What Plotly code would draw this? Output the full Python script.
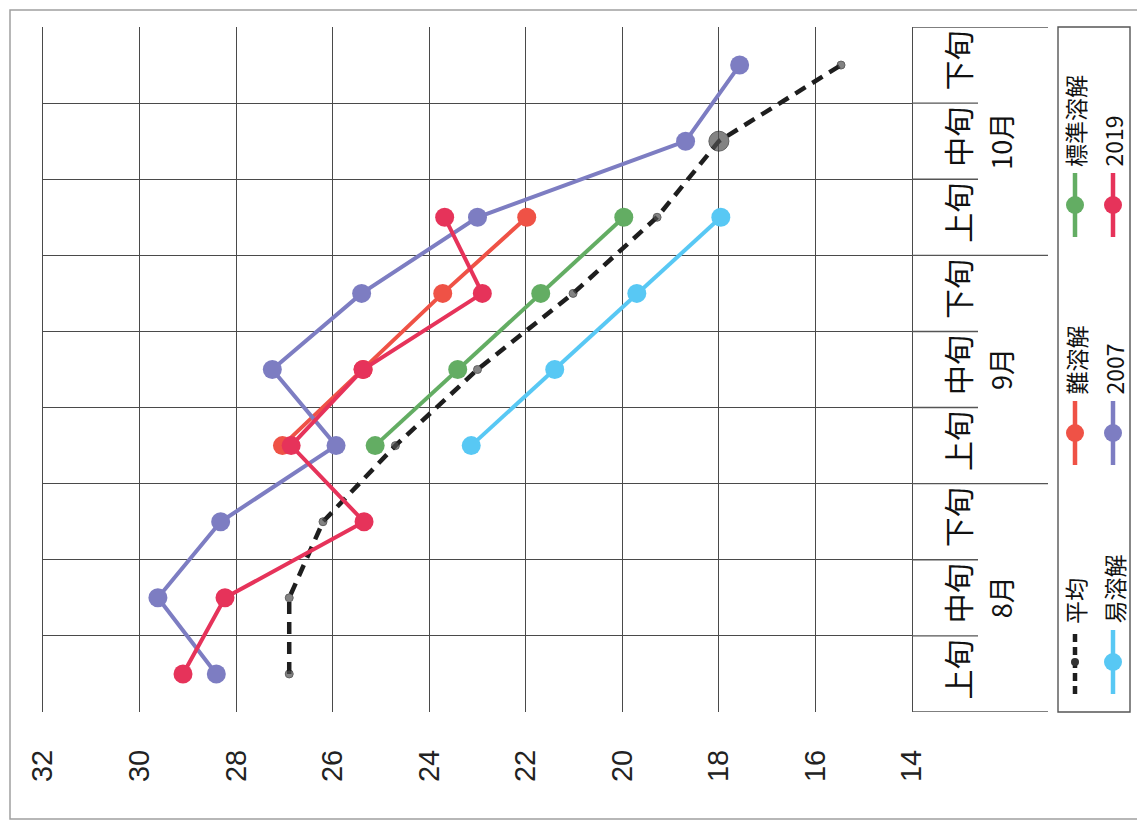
import plotly.graph_objects as go

# ---- data ----
positions = [0, 1, 2, 3, 4, 5, 6, 7, 8]
period_labels = ["上旬", "中旬", "下旬", "上旬", "中旬", "下旬", "上旬", "中旬", "下旬"]
months = ["8月", "9月", "10月"]
month_centers = [1, 4, 7]
values_ticks = [32, 30, 28, 26, 24, 22, 20, 18, 16, 14]

avg = [26.9, 26.9, 26.2, 24.7, 23.0, 21.02, 19.28, 18.0, 15.47]
easy = [None, None, None, 23.13, 21.40, 19.70, 17.96, None, None]
standard = [None, None, None, 25.12, 23.41, 21.69, 19.97, None, None]
hard = [None, None, None, 27.04, 25.37, 23.72, 21.98, None, None]
y2019 = [29.10, 28.23, 25.35, 26.86, 25.37, 22.90, 23.68, None, None]
y2007 = [28.41, 29.62, 28.32, 25.93, 27.25, 25.40, 23.00, 18.69, 17.57]

C_AVG = "#1e1e1e"
C_EASY = "#58c8f4"
C_STD = "#63ad63"
C_HARD = "#ef5246"
C_2019 = "#e6335a"
C_2007 = "#7d7dc2"

# page offset (browser body margin) and geometry in screenshot pixels
OFF = 8
W, H = 1145 - OFF, 824 - OFF
L, R, T, B = 43, 912, 27, 712  # plot area in screenshot pixels


def px(x):
    return (x - L) / (R - L)


def py(y):
    return (B - y) / (B - T)


fig = go.Figure()

fig.add_trace(go.Scatter(
    x=avg, y=positions, mode="lines+markers", name="平均",
    line=dict(color=C_AVG, width=4.5, dash="12px,8px"),
    marker=dict(size=[8, 8, 8, 8, 8, 8, 8, 20, 8], color="#505050", symbol="circle"),
))
for vals, col, name in [(easy, C_EASY, "易溶解"), (standard, C_STD, "標準溶解"),
                        (hard, C_HARD, "難溶解"), (y2007, C_2007, "2007"),
                        (y2019, C_2019, "2019")]:
    fig.add_trace(go.Scatter(
        x=vals, y=positions, mode="lines+markers", name=name,
        line=dict(color=col, width=4),
        marker=dict(size=19, color=col),
    ))

grid_c = "#4a4a4a"
boundaries = [p - 0.5 for p in positions] + [positions[-1] + 0.5]

fig.update_layout(
    width=W, height=H,
    margin=dict(l=L - OFF, r=(1145 - R), t=T - OFF, b=(824 - B)),
    paper_bgcolor="white", plot_bgcolor="white",
    showlegend=False,
    xaxis=dict(
        range=[32, 14], tickvals=values_ticks, ticktext=[str(v) for v in values_ticks],
        showgrid=True, gridcolor=grid_c, gridwidth=1.4, zeroline=False,
        tickangle=-90, ticks="", ticklabelstandoff=31,
        tickfont=dict(family="Liberation Sans", size=29, color="#222"),
        showline=False,
    ),
    yaxis=dict(
        range=[-0.5, 8.5], side="right", tickvals=positions, ticktext=period_labels,
        showgrid=False, zeroline=False, ticks="", tickangle=-90, ticklabelstandoff=21,
        tickfont=dict(family="Noto Sans CJK JP", size=30, color="#111"),
        showline=True, mirror=True, linecolor=grid_c, linewidth=1.4,
        minor=dict(tickvals=boundaries, showgrid=True, gridcolor=grid_c, gridwidth=1.4, ticks=""),
    ),
)

shapes = []
# dividers of category labels
for b in boundaries:
    long_line = b in (-0.5, 2.5, 5.5, 8.5)
    shapes.append(dict(type="line", xref="paper", yref="y",
                       x0=px(R), x1=px(1048 if long_line else 978), y0=b, y1=b,
                       line=dict(color="#555", width=1.4)))
# legend box
shapes.append(dict(type="rect", xref="paper", yref="paper",
                   x0=px(1058), x1=px(1130), y0=py(712), y1=py(27),
                   line=dict(color="#555", width=1.4)))
# outer border
shapes.append(dict(type="rect", xref="paper", yref="paper",
                   x0=px(10), x1=px(1141), y0=py(819), y1=py(10),
                   line=dict(color="#a0a0a0", width=1.5)))

annotations = []
for m, c in zip(months, month_centers):
    annotations.append(dict(xref="paper", yref="y", x=px(1022), y=c, text=m,
                            showarrow=False, textangle=-90,
                            font=dict(family="Noto Sans CJK JP", size=27, color="#111")))

legend_items = [
    ("平均", C_AVG, 1075, 662, True),
    ("易溶解", C_EASY, 1113, 662, False),
    ("難溶解", C_HARD, 1075, 433, False),
    ("2007", C_2007, 1113, 433, False),
    ("標準溶解", C_STD, 1075, 205, False),
    ("2019", C_2019, 1113, 205, False),
]
for name, col, cx, cy, dashed in legend_items:
    shapes.append(dict(type="line", xref="paper", yref="paper",
                       x0=px(cx), x1=px(cx), y0=py(cy + 32), y1=py(cy - 32),
                       line=dict(color=col, width=4.5, dash="8px,5px" if dashed else "solid")))
    r = 4 if dashed else 9
    shapes.append(dict(type="circle", xref="paper", yref="paper",
                       x0=px(cx - r), x1=px(cx + r), y0=py(cy + r), y1=py(cy - r),
                       fillcolor="#333" if dashed else col, line=dict(width=0)))
    annotations.append(dict(xref="paper", yref="paper", x=px(cx), y=py(cy - 36),
                            text=name, showarrow=False, textangle=-90,
                            xanchor="center", yanchor="bottom",
                            font=dict(family="Noto Sans CJK JP", size=23, color="#111")))

fig.update_layout(shapes=shapes, annotations=annotations)
fig.write_html("out.html")
